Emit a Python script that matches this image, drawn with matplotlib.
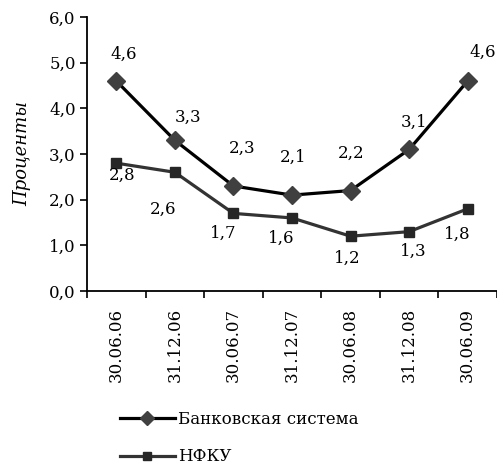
import matplotlib.pyplot as plt
from matplotlib.ticker import FixedLocator, FuncFormatter

plt.rcParams['font.family'] = ['DejaVu Serif']

dates = ['30.06.06', '31.12.06', '30.06.07', '31.12.07', '30.06.08', '31.12.08', '30.06.09']
bank_system = [4.6, 3.3, 2.3, 2.1, 2.2, 3.1, 4.6]
nfku = [2.8, 2.6, 1.7, 1.6, 1.2, 1.3, 1.8]

# label offsets in pixels (dx, dy), hand tuned per point
bank_offsets = [(7, 27), (13, 23), (9, 38), (1, 38), (1, 37), (5, 27), (15, 29)]
nfku_offsets = [(6, -12), (-12, -37), (-10, -20), (-11, -20), (-3, -22), (4, -20), (-10, -26)]


def comma(v, pos=None):
    return '{:.1f}'.format(v).replace('.', ',')


fig = plt.figure(figsize=(4.97, 4.66), dpi=100)
ax = fig.add_axes([0.175, 0.3755, 0.825, 0.588])

x = [i + 0.5 for i in range(len(dates))]
ax.plot(x, bank_system, color='black', lw=2.3, marker='D', ms=9.5,
        mfc='#404040', mec='#404040', label='Банковская система', zorder=3)
ax.plot(x, nfku, color='#333333', lw=2.3, marker='s', ms=7.5,
        mfc='#262626', mec='#262626', label='НФКУ', zorder=3)

for xi, v, (dx, dy) in zip(x, bank_system, bank_offsets):
    ax.annotate(comma(v), (xi, v), xytext=(dx, dy), textcoords='offset pixels',
                ha='center', va='center', fontsize=12)
for xi, v, (dx, dy) in zip(x, nfku, nfku_offsets):
    ax.annotate(comma(v), (xi, v), xytext=(dx, dy), textcoords='offset pixels',
                ha='center', va='center', fontsize=12)

ax.set_xlim(0, len(dates))
ax.set_ylim(0, 6)
ax.set_yticks([0, 1, 2, 3, 4, 5, 6])
ax.yaxis.set_major_formatter(FuncFormatter(comma))
ax.set_xticks(x)
ax.set_xticklabels(dates, rotation=90)
ax.xaxis.set_minor_locator(FixedLocator(range(len(dates) + 1)))
ax.tick_params(axis='x', which='major', length=0, pad=12, labelsize=12)
ax.tick_params(axis='x', which='minor', length=5, width=1.2, direction='out')
ax.tick_params(axis='y', length=5, width=1.2, direction='out', labelsize=12, pad=3)

for side in ('top', 'right'):
    ax.spines[side].set_visible(False)
for side in ('left', 'bottom'):
    ax.spines[side].set_linewidth(1.3)

ax.set_ylabel('Проценты', fontsize=13, style='italic', labelpad=13)

fig.legend(loc='upper left', bbox_to_anchor=(0.2414, 0.119), bbox_transform=fig.transFigure,
           frameon=False, fontsize=12, handlelength=3.3, labelspacing=1.25,
           handletextpad=0.2, borderaxespad=0, borderpad=0, markerscale=0.75)

fig.savefig('out.png', dpi=100)
